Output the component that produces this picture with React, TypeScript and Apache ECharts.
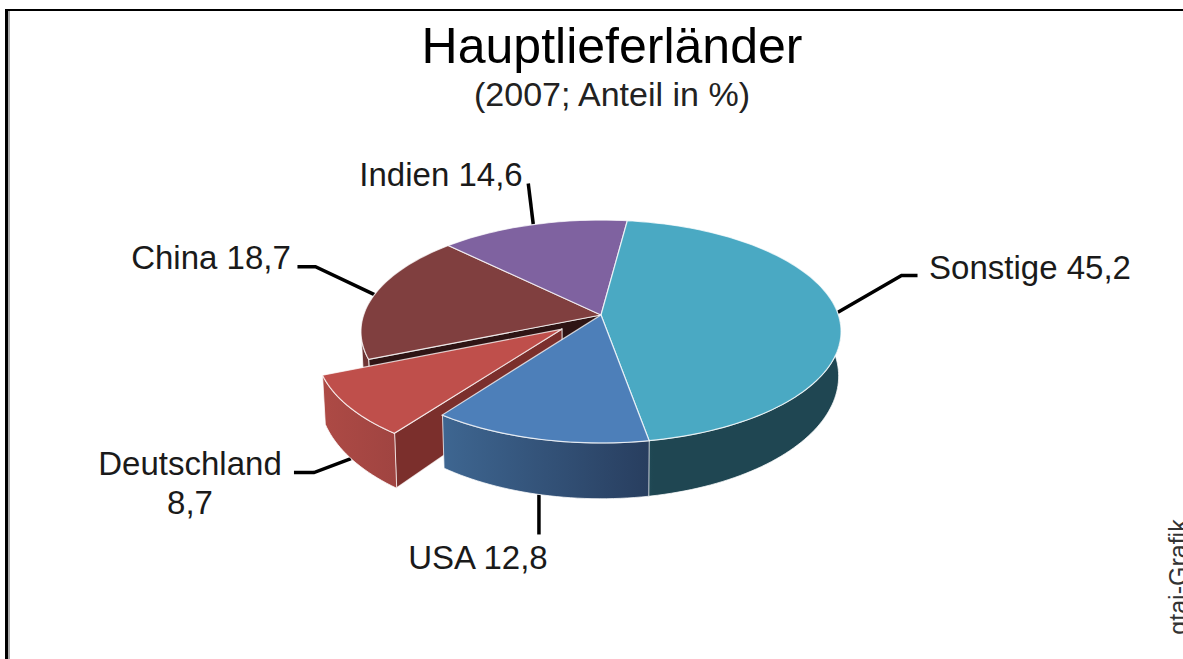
import React, { useEffect, useRef } from "react";
import * as echarts from "echarts";

const categories = ["Sonstige", "USA", "Deutschland", "China", "Indien"];
const shares = [45.2, 12.8, 8.7, 18.7, 14.6];
const titleText = "Hauptlieferländer";
const subtitleText = "(2007; Anteil in %)";
const creditText = "gtai-Grafik";

const topColors = ["#4aa9c3", "#4d7fb9", "#bf4f4b", "#803f3f", "#7f62a0"];
const sideFrom = ["#2b6671", "#3e6691", "#ad4a45", "#6e3535", "#5f4a78"];
const sideTo = ["#1f4652", "#283e5f", "#a04441", "#6e3535", "#5f4a78"];
const sideStop = [0.22, 1, 1, 1, 1];
const cutColors = ["#1f4652", "#283e5f", "#7b2f2c", "#2e1414", "#4a3a60"];
const drawOrder = [3, 4, 2, 0, 1];

// perspective of the pie disc
const CX = 601, CY = 315, A = 237.4, B = 109, P = 0.148;
const DEPTH = 43, SCALE_X = 0.99, SCALE_Y = 1.1;
const START_ANGLE = 82.7;
const EXPLODE = [0, 0, 0.205, 0, 0];
// visible part of the outer wall of each slice, in degrees
const wallRange: ([number, number] | null)[] = [[-90, 8], [-126, -80], [-157.4, -126], [-172, -157.4], null];

// label layout: elbow offsets from the rim anchor, end offset, and label centre
const leaderLayout = [
  { base: "top", pts: [[64, -37], [80, -37]], label: [1030, 267] },
  { base: "wall", pts: [[0, 40]], label: [478, 557] },
  { base: "wall", pts: [[-37, 14], [-57, 14]], label: [190, 483] },
  { base: "top", pts: [[-59, -28], [-77, -28]], label: [211, 257] },
  { base: "top", pts: [[-5, -41]], label: [441, 174] },
];

const total = shares.reduce((s, v) => s + v, 0);
const bounds: [number, number][] = [];
{
  let a = START_ANGLE;
  shares.forEach((v) => {
    const b = a - (v / total) * 360;
    bounds.push([a, b]);
    a = b;
  });
}

const rad = (d: number) => (d * Math.PI) / 180;
const project = (u: number, v: number): [number, number] => {
  const w = 1 + P * v;
  return [CX + (A * u) / w, CY - (B * v) / w];
};
const lower = (p: [number, number]): [number, number] => [
  CX + (p[0] - CX) * SCALE_X,
  CY + (p[1] - CY) * SCALE_Y + DEPTH,
];
const offsetOf = (i: number): [number, number] => {
  const mid = rad((bounds[i][0] + bounds[i][1]) / 2);
  return [EXPLODE[i] * Math.cos(mid), EXPLODE[i] * Math.sin(mid)];
};
const rimPoint = (i: number, deg: number) => {
  const o = offsetOf(i);
  return project(o[0] + Math.cos(rad(deg)), o[1] + Math.sin(rad(deg)));
};
const apex = (i: number) => {
  const o = offsetOf(i);
  return project(o[0], o[1]);
};
const arc = (i: number, from: number, to: number) => {
  const n = Math.max(2, Math.ceil(Math.abs(to - from) / 1.5));
  const out: [number, number][] = [];
  for (let k = 0; k <= n; k++) out.push(rimPoint(i, from + ((to - from) * k) / n));
  return out;
};

const edge = "rgba(255,255,255,0.75)";

const sliceItem = (params: any, api: any) => {
  const i = api.value(0);
  const [a0, a1] = bounds[i];
  const children: any[] = [];
  const range = wallRange[i];

  if (i === 2 || i === 3) {
    const p = apex(i);
    const r = rimPoint(i, a0);
    children.push({
      type: "polygon",
      shape: { points: [p, r, lower(r), lower(p)] },
      style: { fill: cutColors[i], stroke: edge, lineWidth: 1.2 },
    });
  }
  if (range) {
    const t = arc(i, range[0], range[1]);
    children.push({
      type: "polygon",
      shape: { points: [...t, ...t.map(lower).reverse()] },
      style: {
        fill: new echarts.graphic.LinearGradient(0, 0, 1, 0, [
          { offset: 0, color: sideFrom[i] },
          { offset: sideStop[i], color: sideTo[i] },
          { offset: 1, color: sideTo[i] },
        ]),
        stroke: edge,
        lineWidth: 1,
      },
    });
  }
  children.push({
    type: "polygon",
    shape: { points: [apex(i), ...arc(i, a0, a1)] },
    style: { fill: topColors[i], stroke: edge, lineWidth: 1.2 },
  });
  return { type: "group", children };
};

const leaderItem = (params: any, api: any) => {
  const i = api.value(0);
  const v = api.value(1);
  const mid = (bounds[i][0] + bounds[i][1]) / 2;
  const rim = rimPoint(i, mid);
  const cfg = leaderLayout[i];
  const s = cfg.base === "wall" ? lower(rim) : rim;
  const pts = [s, ...cfg.pts.map((d) => [s[0] + d[0], s[1] + d[1]])];
  const num = String(v).replace(".", ",");
  const text = categories[i] === "Deutschland" ? `${categories[i]}\n${num}` : `${categories[i]} ${num}`;
  return {
    type: "group",
    children: [
      {
        type: "polyline",
        shape: { points: pts },
        style: { fill: "none", stroke: "#000", lineWidth: 3.5 },
      },
      {
        type: "text",
        x: cfg.label[0],
        y: cfg.label[1],
        style: {
          text,
          fill: "#1a1a1a",
          font: '33px "Liberation Sans"',
          lineHeight: 39,
          align: "center",
          verticalAlign: "middle",
        },
      },
    ],
  };
};

export default function App() {
  const ref = useRef<HTMLDivElement>(null);
  useEffect(() => {
    const chart = echarts.init(ref.current!, undefined, { renderer: "svg" });
    chart.setOption({
      animation: false,
      backgroundColor: "#fff",
      title: {
        text: titleText,
        subtext: subtitleText,
        left: 607,
        textAlign: "center",
        top: 16,
        itemGap: 6,
        textStyle: { fontFamily: "Liberation Sans", fontSize: 50, fontWeight: "normal", color: "#000" },
        subtextStyle: { fontFamily: "Liberation Sans", fontSize: 34, color: "#222" },
      },
      graphic: [
        { type: "rect", shape: { x: 5, y: 9, width: 1178, height: 2 }, style: { fill: "#000" } },
        { type: "rect", shape: { x: 5, y: 9, width: 3, height: 650 }, style: { fill: "#000" } },
        { type: "rect", shape: { x: 8, y: 11, width: 2, height: 648 }, style: { fill: "#aaa" } },
        {
          type: "text",
          x: 1178,
          y: 577,
          rotation: Math.PI / 2,
          style: {
            text: creditText,
            fill: "#333",
            font: '25px "Liberation Sans"',
            align: "center",
            verticalAlign: "middle",
          },
        },
      ],
      series: [
        {
          type: "custom",
          coordinateSystem: "none",
          renderItem: leaderItem,
          data: shares.map((v, i) => [i, v]),
          silent: true,
        },
        {
          type: "custom",
          coordinateSystem: "none",
          renderItem: sliceItem,
          data: drawOrder.map((i) => [i, shares[i]]),
          silent: true,
        },
      ],
    });
    return () => chart.dispose();
  }, []);
  return <div ref={ref} style={{ position: "fixed", left: 0, top: 0, width: 1183, height: 659 }} />;
}
